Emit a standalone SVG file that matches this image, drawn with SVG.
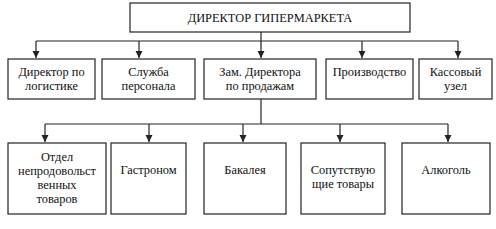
<svg xmlns="http://www.w3.org/2000/svg" width="496" height="229" viewBox="0 0 496 229">
<style>
rect{fill:#fff;stroke:#222;stroke-width:1.2}
text{font-family:"Liberation Serif","Times New Roman",serif;font-size:12.4px;fill:#111;text-anchor:middle}
.c{fill:none;stroke:#222;stroke-width:1.2}
</style>
<defs>
<marker id="a" markerWidth="8" markerHeight="8" refX="7" refY="4" orient="auto" markerUnits="userSpaceOnUse">
<path d="M0,0.5 L7,4 L0,7.5 Z" fill="#222"/>
</marker>
</defs>
<rect width="496" height="229" style="fill:#fff;stroke:none"/>
<g id="connectors">
<path class="c" d="M261,32 V41"/>
<path class="c" d="M36,41 H458"/>
<path class="c" d="M36,41 V58" marker-end="url(#a)"/>
<path class="c" d="M139,41 V58" marker-end="url(#a)"/>
<path class="c" d="M261,41 V58" marker-end="url(#a)"/>
<path class="c" d="M362,41 V58" marker-end="url(#a)"/>
<path class="c" d="M458,41 V58" marker-end="url(#a)"/>
<path class="c" d="M261,99 V124"/>
<path class="c" d="M45,124 H448"/>
<path class="c" d="M45,124 V142" marker-end="url(#a)"/>
<path class="c" d="M149,124 V142" marker-end="url(#a)"/>
<path class="c" d="M243,124 V142" marker-end="url(#a)"/>
<path class="c" d="M340,124 V142" marker-end="url(#a)"/>
<path class="c" d="M448,124 V142" marker-end="url(#a)"/>
</g>
<g id="top"><rect x="130" y="3" width="280" height="29"/><text x="270" y="22">ДИРЕКТОР ГИПЕРМАРКЕТА</text></g>
<g id="logistics"><rect x="8" y="59" width="87" height="40"/><text x="51.5" y="76">Директор по</text><text x="51.5" y="90">логистике</text></g>
<g id="personnel"><rect x="102" y="59" width="93" height="40"/><text x="148.5" y="76">Служба</text><text x="148.5" y="90">персонала</text></g>
<g id="sales"><rect x="204" y="59" width="112" height="40"/><text x="260" y="76">Зам. Директора</text><text x="260" y="90">по продажам</text></g>
<g id="production"><rect x="326" y="59" width="87" height="40"/><text x="369.5" y="76">Производство</text></g>
<g id="cash"><rect x="419" y="59" width="73" height="40"/><text x="455.5" y="76">Кассовый</text><text x="455.5" y="90">узел</text></g>
<g id="nonfood"><rect x="8" y="143" width="98" height="71"/><text x="57" y="161">Отдел</text><text x="57" y="175">непродовольст</text><text x="57" y="189">венных</text><text x="57" y="203">товаров</text></g>
<g id="gastronom"><rect x="111" y="143" width="75" height="71"/><text x="148.5" y="174">Гастроном</text></g>
<g id="bakaleya"><rect x="204" y="143" width="82" height="71"/><text x="245" y="174">Бакалея</text></g>
<g id="related"><rect x="301" y="143" width="84" height="71"/><text x="343" y="174">Сопутствую</text><text x="343" y="188">щие товары</text></g>
<g id="alcohol"><rect x="402" y="143" width="88" height="71"/><text x="446" y="174">Алкоголь</text></g>
</svg>
